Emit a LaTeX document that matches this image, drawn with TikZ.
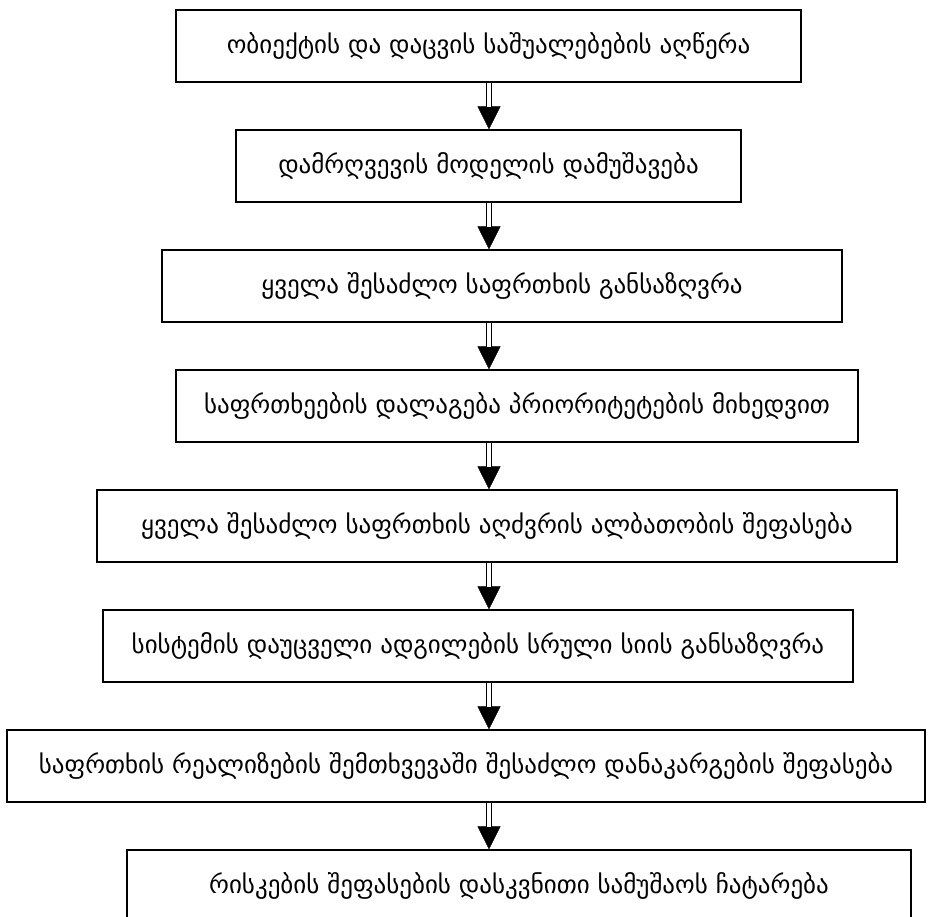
\documentclass[tikz,border=0pt]{standalone}
\usepackage{fontspec}
\setmainfont{DejaVu Sans}
\usetikzlibrary{arrows.meta}
\tikzset{
  stepbox/.style={draw, line width=1.4pt, rectangle, inner sep=0pt, minimum height=72pt,
    font=\fontsize{25}{29}\selectfont},
  shaft/.style={double, double distance=3.4pt, line width=1.3pt, shorten >=22pt},
  head/.style={line width=0.3pt, -{Triangle[width=23pt,length=23pt]}},
}
\begin{document}
\begin{tikzpicture}[x=1pt,y=-1pt]
\useasboundingbox (0,0) rectangle (934,916);
\coordinate (ax) at (489,0);
\node[stepbox, minimum width=625pt] (b1) at (488.5,46) {ობიექტის და დაცვის საშუალებების აღწერა};
\node[stepbox, minimum width=505pt] (b2) at (488.5,166) {დამრღვევის მოდელის დამუშავება};
\node[stepbox, minimum width=680pt] (b3) at (502,286) {ყველა შესაძლო საფრთხის განსაზღვრა};
\node[stepbox, minimum width=682pt] (b4) at (517,406) {საფრთხეების დალაგება პრიორიტეტების მიხედვით};
\node[stepbox, minimum width=800pt] (b5) at (497,526) {ყველა შესაძლო საფრთხის აღძვრის ალბათობის შეფასება};
\node[stepbox, minimum width=750pt] (b6) at (478,646) {სისტემის დაუცველი ადგილების სრული სიის განსაზღვრა};
\node[stepbox, minimum width=918pt] (b7) at (466,766) {საფრთხის რეალიზების შემთხვევაში შესაძლო დანაკარგების შეფასება};
\node[stepbox, minimum width=784pt] (b8) at (519,886) {რისკების შეფასების დასკვნითი სამუშაოს ჩატარება};
\foreach \a/\b in {b1/b2,b2/b3,b3/b4,b4/b5,b5/b6,b6/b7,b7/b8}{
  \draw[head] (\a.south -| ax) -- (\b.north -| ax);
  \draw[shaft] (\a.south -| ax) -- (\b.north -| ax);
}
\end{tikzpicture}
\end{document}
